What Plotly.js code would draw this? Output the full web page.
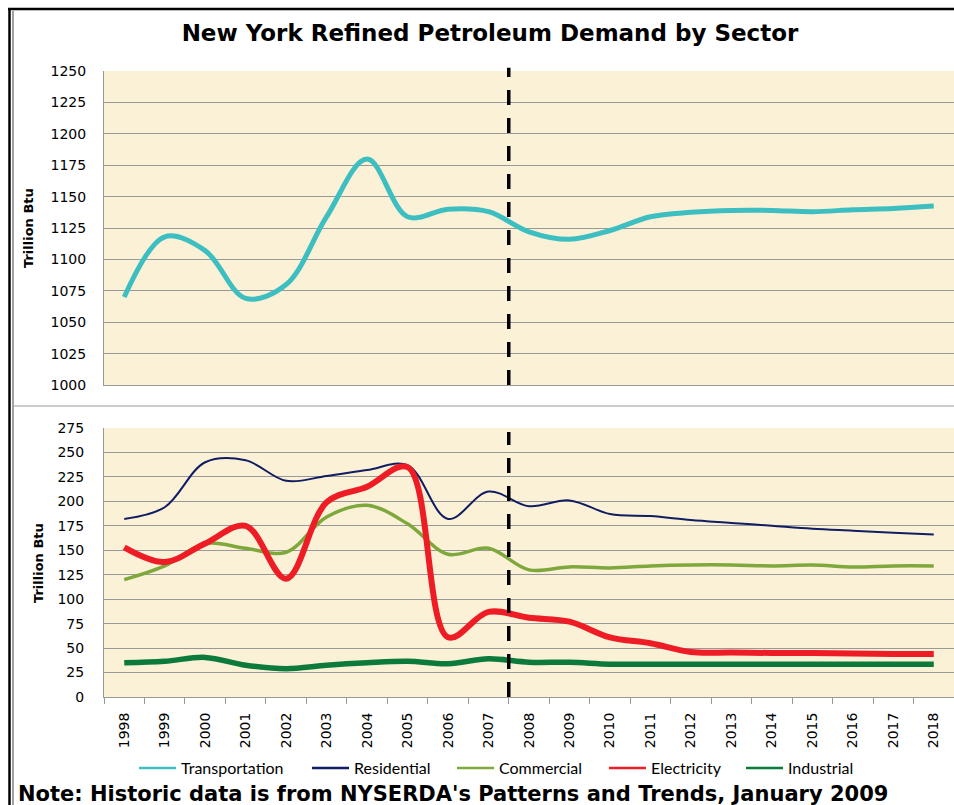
<!DOCTYPE html>
<html>
<head>
<meta charset="utf-8">
<script src="https://cdn.plot.ly/plotly-3.0.1.min.js"></script>
<style>html,body{margin:0;padding:0;background:#fff;}#chart{width:954px;height:805px;}</style>
</head>
<body>
<div id="chart"></div>
<script>
// ---- data ----
const years = ['1998','1999','2000','2001','2002','2003','2004','2005','2006','2007','2008','2009','2010','2011','2012','2013','2014','2015','2016','2017','2018'];
const transportation = [1070,1118,1107,1069,1080,1134,1180,1134,1140,1138,1122,1116,1123,1134,1137.5,1139,1139,1138,1139.5,1140.5,1142.5];
const residential = [182,194,240,242,221,226,232,237,182,210,195,201,187,185,181,178,175,172,170,168,166];
const commercial = [120,134,157,152,148,184,196,177,146,152,130,133,132,134,135,135,134,135,133,134,134];
const electricity = [153,138,157,175,121,199,215,235,61,87,81,77,61,55,46,45.5,45,45,44.5,44,44];
const industrial = [35,36.5,40.5,32.5,29,32.5,35,36.5,34,39,35.5,35.5,33.5,33.5,33.5,33.5,33.5,33.5,33.5,33.5,33.5];
const seriesNames = ['Transportation','Residential','Commercial','Electricity','Industrial'];
const seriesColors = ['#3dbfc1','#111d63','#7ea83c','#ee1d25','#0b7a3b'];
const topTicks = [1000,1025,1050,1075,1100,1125,1150,1175,1200,1225,1250];
const botTicks = [0,25,50,75,100,125,150,175,200,225,250,275];
const splitIndex = 9.5; // boundary between 2007 (historic) and 2008 (forecast)

const W = 954, H = 805;
const px = v => v / W;
const py = v => 1 - v / H;
const FONT = '"DejaVu Sans", sans-serif';
const LFONT = 'Lato, "Open Sans", sans-serif';
const GRID = '#999999';
const legendIds = ['legend','legend2','legend3','legend4','legend5'];
const legendX = [140, 313, 458, 610, 747];

function tr(i, y, width, xa, ya) {
  return {type:'scatter', mode:'lines', name:seriesNames[i], x:years, y:y, xaxis:xa, yaxis:ya, showlegend:false,
    line:{color:seriesColors[i], width:width, shape:'spline', smoothing:1}, hoverinfo:'x+y+name'};
}
// legend entries with thin swatches, as in the reference legend
function legendEntry(i) {
  return {type:'scatter', mode:'lines', name:seriesNames[i], x:[null], y:[null], xaxis:'x2', yaxis:'y2',
    showlegend:true, legend:legendIds[i], line:{color:seriesColors[i], width:2.5}, hoverinfo:'skip'};
}

const data = [
  tr(0, transportation, 5, 'x', 'y'),
  tr(1, residential, 2, 'x2', 'y2'),
  tr(2, commercial, 3.5, 'x2', 'y2'),
  tr(3, electricity, 6, 'x2', 'y2'),
  tr(4, industrial, 5.5, 'x2', 'y2'),
  legendEntry(0), legendEntry(1), legendEntry(2), legendEntry(3), legendEntry(4)
];

const xcommon = {type:'category', range:[-0.5, 20.5], domain:[px(104), 1], showgrid:false, zeroline:false, fixedrange:true};
const layout = {
  width:W, height:H,
  margin:{l:0, r:0, t:0, b:0, autoexpand:false},
  paper_bgcolor:'#ffffff',
  plot_bgcolor:'#fbf1d7',
  showlegend:true,
  font:{family:FONT, color:'#000', size:13},
  title:{text:'<b>New York Refined Petroleum Demand by Sector</b>', font:{family:FONT, size:23, color:'#000'},
    x:px(490), xanchor:'center', xref:'paper', y:py(33), yanchor:'middle', yref:'paper'},
  xaxis: Object.assign({}, xcommon, {anchor:'y', showticklabels:false, ticks:'', showline:true, linecolor:GRID, linewidth:1}),
  yaxis: {domain:[py(385), py(71)], range:[1000,1250], tickvals:topTicks, ticktext:topTicks.map(String),
    showgrid:true, gridcolor:GRID, gridwidth:1, zeroline:false, showline:true, linecolor:GRID, linewidth:1,
    ticks:'', ticklabelstandoff:14, tickfont:{family:FONT, size:14, color:'#000'}, anchor:'x', fixedrange:true},
  xaxis2: Object.assign({}, xcommon, {anchor:'y2', showticklabels:true, tickangle:-90, ticks:'outside', tickson:'boundaries',
    ticklen:6, tickcolor:GRID, tickwidth:1, showline:true, linecolor:GRID, linewidth:1, ticklabelstandoff:9,
    tickfont:{family:FONT, size:14, color:'#000'}}),
  yaxis2: {domain:[py(697), py(428)], range:[0,275], tickvals:botTicks, ticktext:botTicks.map(String),
    showgrid:true, gridcolor:GRID, gridwidth:1, zeroline:false, showline:true, linecolor:GRID, linewidth:1,
    ticks:'', ticklabelstandoff:16, tickfont:{family:FONT, size:14, color:'#000'}, anchor:'x2', fixedrange:true},
  annotations:[
    {text:'<b>Trillion Btu</b>', textangle:-90, xref:'paper', yref:'paper', x:px(28), y:py(228), showarrow:false,
      xanchor:'center', yanchor:'middle', font:{family:FONT, size:13, color:'#000'}},
    {text:'<b>Trillion Btu</b>', textangle:-90, xref:'paper', yref:'paper', x:px(38), y:py(563), showarrow:false,
      xanchor:'center', yanchor:'middle', font:{family:FONT, size:13, color:'#000'}},
    {text:'<b>Note: Historic data is from NYSERDA\'s Patterns and Trends, January 2009</b>', xref:'paper', yref:'paper',
      x:px(16), y:py(794), xanchor:'left', yanchor:'middle', showarrow:false,
      font:{family:FONT, size:21, color:'#000'}}
  ],
  shapes:[
    {type:'line', xref:'x', yref:'y domain', x0:splitIndex, x1:splitIndex, y0:0, y1:1.01, layer:'above',
      line:{color:'#000', width:3.5, dash:'15px,13px'}},
    {type:'line', xref:'x2', yref:'y2 domain', x0:splitIndex, x1:splitIndex, y0:0, y1:0.985, layer:'above',
      line:{color:'#000', width:3.5, dash:'15px,13px'}},
    // outer frame
    {type:'line', xref:'paper', yref:'paper', x0:px(8), x1:1, y0:py(9), y1:py(9), line:{color:'#000', width:2.5}},
    {type:'line', xref:'paper', yref:'paper', x0:px(9.5), x1:px(9.5), y0:py(8), y1:0, line:{color:'#000', width:2.5}},
    {type:'line', xref:'paper', yref:'paper', x0:px(13), x1:px(13), y0:py(11), y1:0, line:{color:'#444', width:1}},
    // separator between the two charts
    {type:'line', xref:'paper', yref:'paper', x0:px(13), x1:1, y0:py(406), y1:py(406), line:{color:'#9a9a9a', width:1}}
  ]
};
legendIds.forEach((id, i) => {
  layout[id] = {orientation:'h', x:px(legendX[i] - 6), xanchor:'left', y:py(768), yanchor:'middle', yref:'paper',
    font:{family:LFONT, size:16, color:'#000'}, bgcolor:'rgba(0,0,0,0)', itemwidth:37,
    itemclick:false, itemdoubleclick:false};
});

Plotly.newPlot('chart', data, layout, {displayModeBar:false, staticPlot:true});
</script>
</body>
</html>
